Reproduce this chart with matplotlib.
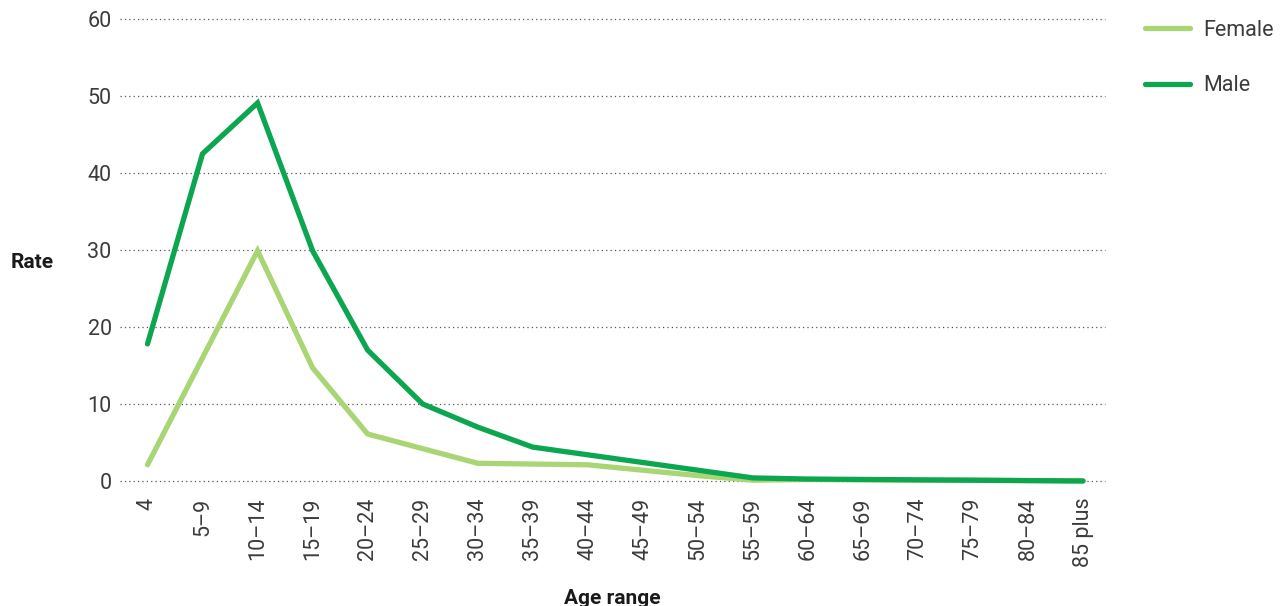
import numpy as np
import matplotlib.pyplot as plt

# age categories and rates
age_ranges = ['4', '5–9', '10–14', '15–19', '20–24', '25–29', '30–34', '35–39', '40–44',
              '45–49', '50–54', '55–59', '60–64', '65–69', '70–74', '75–79', '80–84', '85 plus']
female = [2.1, 16.0, 29.9, 14.7, 6.1, 4.2, 2.3, 2.2, 2.1, 1.4, 0.7, 0.1, 0.2, 0.15, 0.1, 0.1, 0.05, 0.0]
male = [17.8, 42.5, 49.1, 29.9, 17.0, 10.0, 7.0, 4.4, 3.4, 2.4, 1.4, 0.4, 0.25, 0.2, 0.15, 0.1, 0.05, 0.0]
y_ticks = [0, 10, 20, 30, 40, 50, 60]

female_color = '#a9d574'
male_color = '#0ca650'
text_color = '#3c3c3c'

plt.rcParams['font.family'] = ['Roboto', 'DejaVu Sans']

fig = plt.figure(figsize=(12.86, 6.06), dpi=100)
ax = fig.add_axes([0.0933, 0.2063, 0.7660, 0.7623])

x = np.arange(len(age_ranges))
ax.plot(x, female, color=female_color, linewidth=3.8, solid_capstyle='round',
        solid_joinstyle='miter', label='Female', clip_on=False, zorder=3)
ax.plot(x, male, color=male_color, linewidth=3.8, solid_capstyle='round',
        solid_joinstyle='miter', label='Male', clip_on=False, zorder=4)

ax.set_xlim(-0.5, len(age_ranges) - 1 + 0.4)
ax.set_ylim(0, 60)
ax.set_yticks(y_ticks)
ax.set_xticks(x)
ax.set_xticklabels(age_ranges, rotation=90, fontsize=15.5, color=text_color)
ax.set_yticklabels([str(t) for t in y_ticks], fontsize=15.5, color=text_color)
ax.tick_params(axis='both', length=0)
ax.tick_params(axis='x', pad=12)
ax.tick_params(axis='y', pad=6)

for t in y_ticks:
    ax.axhline(t, color='#555555', linewidth=0.9, linestyle=(0, (1, 2.5)), zorder=1, clip_on=False)

for s in ax.spines.values():
    s.set_visible(False)

fig.text(32 / 1286, 1 - 262 / 606, 'Rate', fontsize=15, fontweight='bold', color='#1a1a1a',
         ha='center', va='center')
fig.text(612 / 1286, 1 - 598 / 606, 'Age range', fontsize=15, fontweight='bold', color='#1a1a1a',
         ha='center', va='center')

leg = ax.legend(loc='upper left', bbox_to_anchor=(1.021, 1.04), frameon=False, fontsize=15.5,
                handlelength=2.1, labelspacing=1.6, handletextpad=0.6)
for txt in leg.get_texts():
    txt.set_color(text_color)

fig.savefig('out.png', dpi=100)
